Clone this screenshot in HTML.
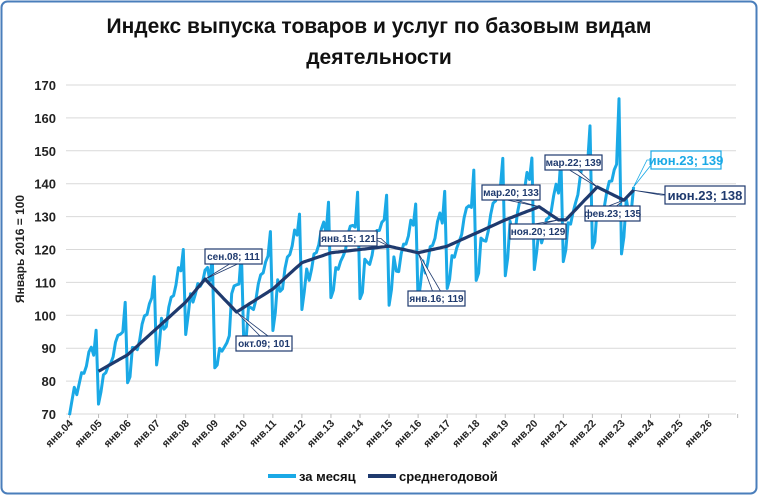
<!DOCTYPE html>
<html><head><meta charset="utf-8"><style>
body{margin:0;background:#fff;}
#w{position:relative;width:758px;height:495px;overflow:hidden;font-family:"Liberation Sans",sans-serif;}
</style></head><body><div id="w">
<svg id="s" width="758" height="495" xmlns="http://www.w3.org/2000/svg" font-family="Liberation Sans, sans-serif">
<rect x="1.5" y="1.5" width="755" height="492" rx="6" fill="#fff" stroke="#4a7ebb" stroke-width="2"/>
<text x="379" y="33" text-anchor="middle" font-size="21" font-weight="bold" fill="#111">Индекс выпуска товаров и услуг по базовым видам</text>
<text x="379" y="64" text-anchor="middle" font-size="21" font-weight="bold" fill="#111">деятельности</text>
<text transform="translate(24,249) rotate(-90)" text-anchor="middle" font-size="12" font-weight="bold" fill="#222">Январь 2016 = 100</text>
<g id="grid"></g>
<g id="series"></g>
<g id="ann"></g>
<line x1="268" y1="476" x2="296" y2="476" stroke="#1aa9e6" stroke-width="4"/>
<text x="299" y="481" font-size="13" font-weight="bold" fill="#111">за месяц</text>
<line x1="368" y1="476" x2="396" y2="476" stroke="#1f3a6e" stroke-width="4"/>
<text x="399" y="481" font-size="13" font-weight="bold" fill="#111">среднегодовой</text>
</svg>
<script>
var X0=69.5,DX=29.05,Y0=414,DY=3.29;
function px(m){return X0+m*DX/12;} function py(v){return Y0-(v-70)*DY;}
var g='';
for(var v=70;v<=170;v+=10){var y=py(v);g+='<line x1="66" y1="'+y+'" x2="736" y2="'+y+'" stroke="#d9d9d9" stroke-width="1"/>';
g+='<text x="56" y="'+(y+5)+'" text-anchor="end" font-size="13" font-weight="bold" fill="#222">'+v+'</text>';}
for(var k=0;k<=23;k++){var x=X0+k*DX;g+='<line x1="'+x+'" y1="414" x2="'+x+'" y2="418" stroke="#bbb"/>';}
for(var k=0;k<=22;k++){var x=X0+k*DX;var yy=(k+4)%100;var lab='янв.'+(yy<10?'0'+yy:yy);
g+='<text transform="translate('+(x+4)+',424) rotate(-45)" text-anchor="end" font-size="10.5" font-weight="bold" fill="#222">'+lab+'</text>';}
document.getElementById('grid').innerHTML=g;
var A=[[0,78],[12,83],[24,88],[36,96],[48,104],[56,111],[69,101],[84,108],[96,116],[108,119],[120,120],[132,121],[144,119],[156,121],[168,125],[180,129],[194,133],[202,129],[205,129],[218,139],[229,135],[233,138]];
function tr(m){for(var i=0;i<A.length-1;i++){if(m>=A[i][0]&&m<=A[i+1][0]){var t=(m-A[i][0])/(A[i+1][0]-A[i][0]);return A[i][1]+t*(A[i+1][1]-A[i][1]);}}return A[A.length-1][1];}
var S=[0.87,0.9,0.97,0.95,0.96,0.99,1.01,1.03,1.05,1.07,1.06,1.13];
var mon=[];
for(var m=0;m<=233;m++){var t=tr(Math.min(m+5,233));var v=t*S[m%12]+Math.sin(m*1.7)*1.5;
if(m>=60&&m<=66)v-=8;if(m==12)v=73;if(m>=216&&m<=228&&m%12==11)v+=10;if(m==233)v=139;mon.push(v);}
var p1='',p2='';
for(var m=0;m<=233;m++){p1+=(m?'L':'M')+px(m).toFixed(1)+' '+py(mon[m]).toFixed(1);}
for(var m=12;m<=233;m++){p2+=(m>12?'L':'M')+px(m).toFixed(1)+' '+py(tr(m)).toFixed(1);}
document.getElementById('series').innerHTML='<path d="'+p1+'" fill="none" stroke="#1aa9e6" stroke-width="3" stroke-linejoin="round"/><path d="'+p2+'" fill="none" stroke="#1f3a6e" stroke-width="3.2" stroke-linejoin="round"/>';
var B=[[56,205,249,57,'сен.08; 111',10,'#1f3a6e'],[69,236,336,56,'окт.09; 101',10,'#1f3a6e'],[132,320,231,57,'янв.15; 121',10,'#1f3a6e'],[144,408,291,57,'янв.16; 119',10,'#1f3a6e'],[194,482,185,58,'мар.20; 133',10,'#1f3a6e'],[202,510,224,56,'ноя.20; 129',10,'#1f3a6e'],[218,545,155,57,'мар.22; 139',10,'#1f3a6e'],[229,585,206,55,'фев.23; 135',10,'#1f3a6e'],[233,651,151,70,'июн.23; 139',13,'#1aa9e6'],[233,665,186,80,'июн.23; 138',13,'#1f3a6e']];
var a='';
B.forEach(function(b){var h=b[5]>11?18:15;var x=px(b[0]),y=py(b[0]==233&&b[4].indexOf('139')>0?139:tr(b[0]));
var cx=b[1]+b[3]/2,cy=b[2]+h/2;var ax,ay;
if(x<b[1]){ax=b[1];ay=cy;}else if(x>b[1]+b[3]){ax=b[1]+b[3];ay=cy;}else{ax=cx;ay=(y<b[2])?b[2]:b[2]+h;}
a+='<polygon points="'+x+','+y+' '+(ax-4)+','+ay+' '+(ax+4)+','+ay+'" fill="#fff" stroke="'+b[6]+'" stroke-width="0.8"/>';
a+='<rect x="'+b[1]+'" y="'+b[2]+'" width="'+b[3]+'" height="'+h+'" fill="#fff" stroke="'+b[6]+'" stroke-width="1.2"/>';
a+='<text x="'+cx+'" y="'+(cy+(b[5]>11?5:3.5))+'" text-anchor="middle" font-size="'+b[5]+'" font-weight="bold" fill="'+b[6]+'">'+b[4]+'</text>';});
document.getElementById('ann').innerHTML=a;
</script>
</div></body></html>
